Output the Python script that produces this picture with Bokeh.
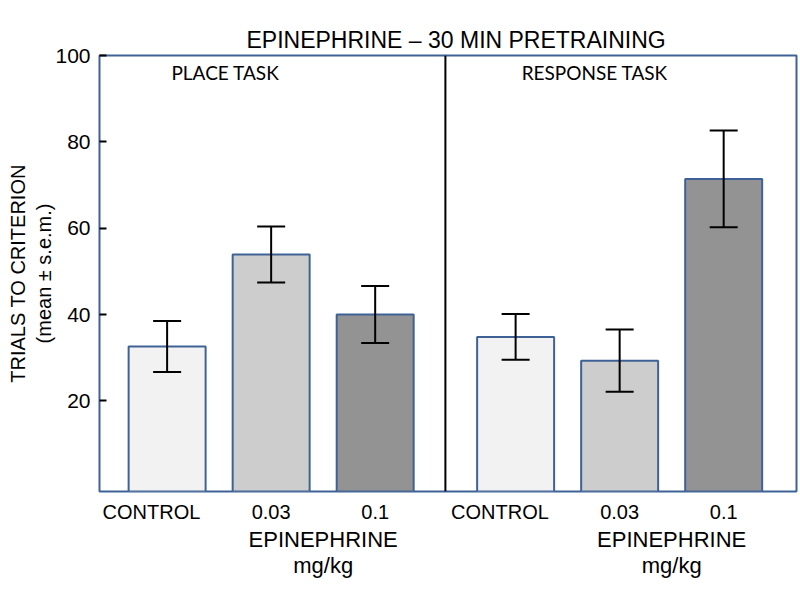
from bokeh.plotting import figure
from bokeh.models import (Range1d, FixedTicker, Whisker, TeeHead, Span, Label, ColumnDataSource,
                          LinearAxis, Title)
from bokeh.embed import file_html
from bokeh.resources import INLINE

# ---- data ----
tasks = ["PLACE TASK", "RESPONSE TASK"]
doses = ["CONTROL", "0.03", "0.1"]
place_mean = [32.6, 53.9, 40.0]
place_sem = [5.9, 6.5, 6.6]
response_mean = [34.8, 29.3, 71.4]
response_sem = [5.3, 7.2, 11.2]
dose_label = "EPINEPHRINE"
dose_unit = "mg/kg"
title_text = "EPINEPHRINE \u2013 30 MIN PRETRAINING"
y_label = "TRIALS TO CRITERION"
y_sublabel = "(mean \u00b1 s.e.m.)"
y_ticks = [20, 40, 60, 80, 100]

fills = ["#f2f2f2", "#cdcdcd", "#939393"]
edge = "#3e6296"
ARIAL = "Liberation Sans"
CAL = "Lato"

group_gap = 3.35
xs, tops, sems, cols = [], [], [], []
for g, (m, s) in enumerate([(place_mean, place_sem), (response_mean, response_sem)]):
    for i in range(3):
        xs.append(g * group_gap + i)
        tops.append(m[i])
        sems.append(s[i])
        cols.append(fills[i])

src = ColumnDataSource(dict(x=xs, top=tops, upper=[t + s for t, s in zip(tops, sems)],
                            lower=[t - s for t, s in zip(tops, sems)], color=cols))

p = figure(width=800, height=590, x_range=Range1d(-0.65, 6.05), y_range=Range1d(-1, 100),
           output_backend="svg", toolbar_location=None,
           min_border_left=99, min_border_right=4, min_border_top=55, min_border_bottom=99)
p.grid.visible = False
p.outline_line_color = edge
p.outline_line_width = 2
p.background_fill_color = "white"
p.border_fill_color = "white"

xa = p.below[0]
ya = p.left[0]

# title: an empty axis above the frame acts as a spacer below the title
p.title = None
spacer = LinearAxis(ticker=FixedTicker(ticks=[]))
spacer.axis_line_color = None
spacer.major_tick_out = 22
spacer.major_tick_in = 0
spacer.major_tick_line_color = None
spacer.minor_tick_line_color = None
spacer.minor_tick_out = 0
spacer.major_label_standoff = 0
p.add_layout(spacer, "above")
p.add_layout(Title(text=title_text, text_font=ARIAL, text_font_size="23px",
                   text_font_style="normal", text_color="black", align="left",
                   offset=147, vertical_align="top", standoff=1), "above")

p.vbar(x="x", top="top", bottom=-1, width=0.74, fill_color="color", line_color=edge,
       line_width=2, source=src)

w = Whisker(base="x", upper="upper", lower="lower", source=src, line_color="black", line_width=2,
            level="overlay",
            upper_head=TeeHead(size=28, line_color="black", line_width=2),
            lower_head=TeeHead(size=28, line_color="black", line_width=2))
p.add_layout(w)

p.add_layout(Span(location=(2 + group_gap) / 2, dimension="height", line_color="black", line_width=2))

# y axis
ya.ticker = FixedTicker(ticks=y_ticks)
ya.axis_line_color = None
ya.major_tick_in = 7
ya.major_tick_out = 0
ya.major_tick_line_color = "black"
ya.major_tick_line_width = 2
ya.minor_tick_line_color = None
ya.major_label_text_font = ARIAL
ya.major_label_text_font_size = "21px"
ya.major_label_text_color = "black"
ya.major_label_standoff = 9
ya.axis_label = y_label + "\n" + y_sublabel
ya.axis_label_text_font = ARIAL
ya.axis_label_text_font_size = "20px"
ya.axis_label_text_font_style = "normal"
ya.axis_label_text_color = "black"
ya.axis_label_standoff = -3
ya.axis_label_text_line_height = 1.2

# x axis: dose labels (CONTROL labels sit a little left of their bars)
ctrl_shift = 0.15
tick_pos = [x - (ctrl_shift if i % 3 == 0 else 0) for i, x in enumerate(xs)]
xa.ticker = FixedTicker(ticks=tick_pos)
xa.major_label_overrides = {t: doses[i % 3] for i, t in enumerate(tick_pos)}
xa.axis_line_color = None
xa.major_tick_line_color = None
xa.minor_tick_line_color = None
xa.major_label_text_font = ARIAL
xa.major_label_text_font_size = "20px"
xa.major_label_text_color = "black"
xa.major_label_standoff = 3

# second x axis: drug name and unit under each dose pair
mids = [g * group_gap + 1.5 for g in range(2)]
xb = LinearAxis(ticker=FixedTicker(ticks=mids),
                major_label_overrides={m: dose_label + "\n" + dose_unit for m in mids})
xb.axis_line_color = None
xb.major_tick_line_color = None
xb.minor_tick_line_color = None
xb.major_label_text_font = ARIAL
xb.major_label_text_font_size = "22px"
xb.major_label_text_color = "black"
xb.major_label_standoff = -5
xb.major_label_text_line_height = 1.07
p.add_layout(xb, "below")

def lab(x, y, text, font, size):
    p.add_layout(Label(x=x, y=y, text=text, text_font=font, text_font_size=size,
                       text_align="center", text_baseline="middle", text_color="black"))

lab(0.56, 96.0, tasks[0], CAL, "19px")
lab(group_gap + 0.76, 96.0, tasks[1], CAL, "19px")

open("out.html", "w").write(file_html(p, INLINE))
